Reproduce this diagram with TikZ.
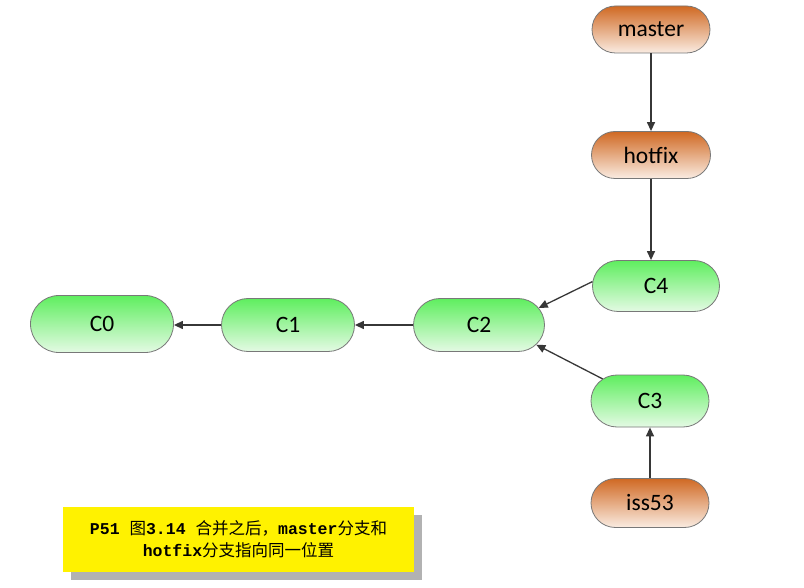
\documentclass[tikz,border=0pt]{standalone}
\usepackage{fontspec}
\setmainfont{Carlito}
\newfontfamily\cjkf{Noto Sans CJK SC}
\newfontfamily\monof{Liberation Mono}
\newcommand\zhtxt[1]{{\cjkf #1}}
\newcommand\latn[1]{{\monof\bfseries #1}}
\usetikzlibrary{shapes.misc,arrows.meta,calc,shadows}
\definecolor{gtop}{RGB}{95,238,95}
\definecolor{gbot}{RGB}{228,250,228}
\definecolor{otop}{RGB}{208,105,35}
\definecolor{obot}{RGB}{250,236,226}
\definecolor{bord}{RGB}{120,120,120}
\definecolor{arr}{RGB}{55,55,55}
\begin{document}
\begin{tikzpicture}[x=1pt,y=-1pt,
  node base/.style={rounded rectangle, draw=bord, line width=0.8pt, inner sep=0pt,
    font=\fontsize{23.5}{27}\selectfont, text=black},
  commit/.style={node base, top color=gtop, bottom color=gbot},
  branch/.style={node base, top color=otop, bottom color=obot},
  link/.style={draw=arr, line width=1.3pt, -{Triangle[length=9pt,width=8pt]}},
]
\useasboundingbox[fill=white] (0,0) rectangle (804,588);

\node[branch, minimum width=118pt, minimum height=47pt] (master) at (651,29.5) {master};
\node[branch, minimum width=119pt, minimum height=47pt] (hotfix) at (651,155) {hotfix};
\node[commit, minimum width=127pt, minimum height=51pt] (C4) at (656,286) {C4};
\node[commit, minimum width=143pt, minimum height=57pt] (C0) at (102,324) {C0};
\node[commit, minimum width=133pt, minimum height=53pt] (C1) at (288,325) {C1};
\node[commit, minimum width=131pt, minimum height=53pt] (C2) at (479,325) {C2};
\node[commit, minimum width=118pt, minimum height=52pt] (C3) at (650,401) {C3};
\node[branch, minimum width=118pt, minimum height=49pt] (iss53) at (650,503) {iss53};

\draw[link] (master.south) -- (master.south |- hotfix.north);
\draw[link] (hotfix.south) -- (hotfix.south |- C4.north);
\draw[link] (C4.176) -- (C2.16);
\draw[link] (C3.155) -- (C2.-19);
\draw[link] (iss53.north) -- (iss53.north |- C3.south);
\draw[link] (C2.west) -- (C2.west -| C1.east);
\draw[link] (C1.west) -- (C1.west -| C0.east);

\node[fill=yellow, minimum width=351pt, minimum height=65pt, inner sep=0pt,
  drop shadow={shadow xshift=8pt, shadow yshift=-8pt, fill=black!30, opacity=1},
  align=center, font=\fontsize{16.5}{22}\selectfont] (cap) at (238.5,539.5)
  {\latn{P51 }\zhtxt{图}\latn{3.14 }\zhtxt{合并之后，}\latn{master}\zhtxt{分支和}\\
   \latn{hotfix}\zhtxt{分支指向同一位置}};
\end{tikzpicture}
\end{document}
